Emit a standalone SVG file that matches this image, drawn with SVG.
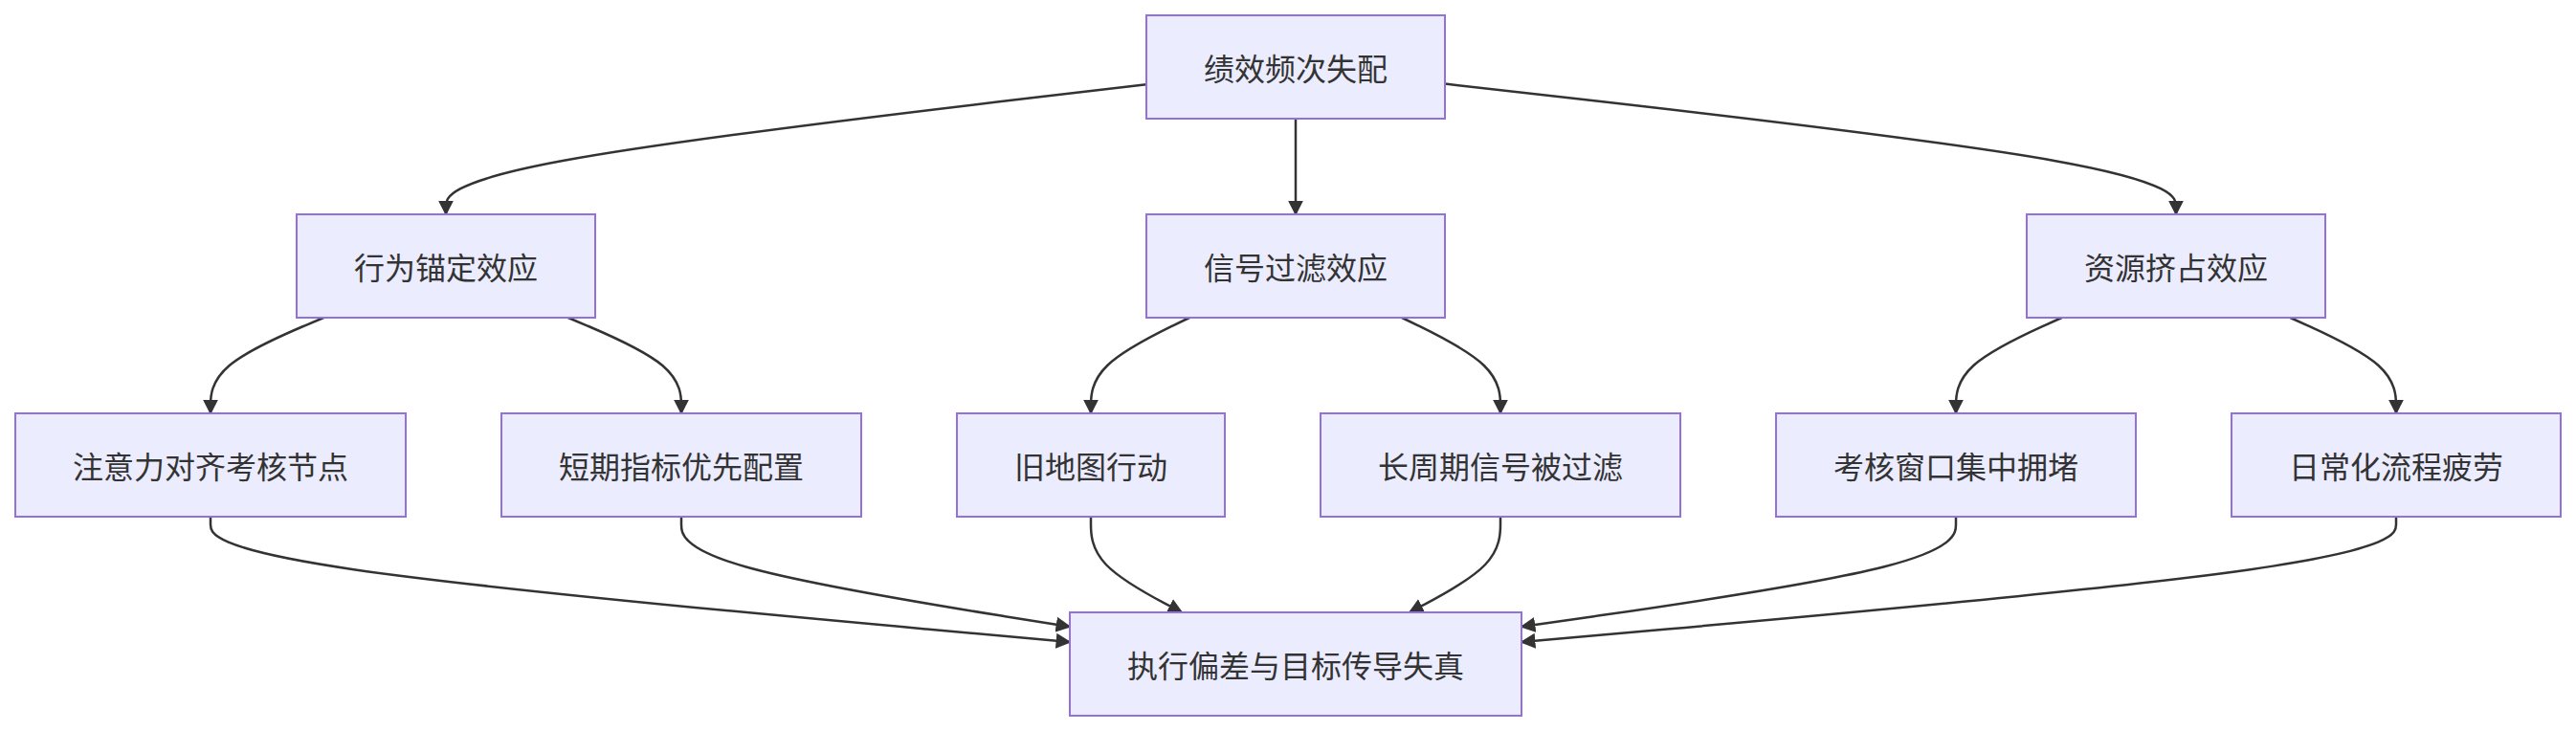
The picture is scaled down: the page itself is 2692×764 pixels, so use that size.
<svg xmlns="http://www.w3.org/2000/svg" width="2692" height="764" viewBox="0 0 2692 764">
<style>
.node rect{fill:#ECECFF;stroke:#9370DB;stroke-width:2}
.node text{font-family:"Noto Sans CJK SC","Noto Sans",sans-serif;font-size:32px;fill:#333;text-anchor:middle;dominant-baseline:central}
.edges path{fill:none;stroke:#333;stroke-width:2.5;marker-end:url(#arrow)}
</style>
<defs>
<marker id="arrow" viewBox="0 0 10 10" refX="9" refY="5" markerUnits="userSpaceOnUse" markerWidth="16" markerHeight="16" orient="auto">
<path d="M0,0 L10,5 L0,10 z" fill="#333"/>
</marker>
</defs>
<rect width="2692" height="764" fill="#fff"/>
<g class="edges">
<path d="M1198,88.3 L1076,102.6 C954,116.9 710,145.4 588,168.1 C466,190.7 466,207.3 466,215.7 L466,224"/>
<path d="M1354,124 L1354,224"/>
<path d="M1510,87.6 L1637.3,102 C1764.7,116.4 2019.3,145.2 2146.7,167.9 C2274,190.7 2274,207.3 2274,215.7 L2274,224"/>
<path d="M338.3,332 L318.6,340.3 C298.9,348.7 259.4,365.3 239.7,382 C220,398.7 220,415.3 220,423.7 L220,432"/>
<path d="M593.7,332 L613.4,340.3 C633.1,348.7 672.6,365.3 692.3,382 C712,398.7 712,415.3 712,423.7 L712,432"/>
<path d="M1243,332 L1225.8,340.3 C1208.7,348.7 1174.3,365.3 1157.2,382 C1140,398.7 1140,415.3 1140,423.7 L1140,432"/>
<path d="M1465,332 L1482.2,340.3 C1499.3,348.7 1533.7,365.3 1550.8,382 C1568,398.7 1568,415.3 1568,423.7 L1568,432"/>
<path d="M2154.6,332 L2136.2,340.3 C2117.7,348.7 2080.9,365.3 2062.4,382 C2044,398.7 2044,415.3 2044,423.7 L2044,432"/>
<path d="M2393.4,332 L2411.8,340.3 C2430.3,348.7 2467.1,365.3 2485.6,382 C2504,398.7 2504,415.3 2504,423.7 L2504,432"/>
<path d="M220,540 L220,548.3 C220,556.7 220,573.3 369.7,595.2 C519.3,617 818.7,644 968.3,657.5 L1118,671"/>
<path d="M712,540 L712,548.3 C712,556.7 712,573.3 779.7,592.5 C847.3,611.7 982.7,633.3 1050.3,644.2 L1118,655"/>
<path d="M1140,540 L1140,548.3 C1140,556.7 1140,573.3 1155.8,590 C1171.7,606.7 1203.3,623.3 1219.2,631.7 L1235,640"/>
<path d="M1568,540 L1568,548.3 C1568,556.7 1568,573.3 1552.2,590 C1536.3,606.7 1504.7,623.3 1488.8,631.7 L1473,640"/>
<path d="M2044,540 L2044,548.3 C2044,556.7 2044,573.3 1968.3,592.5 C1892.7,611.7 1741.3,633.3 1665.7,644.2 L1590,655"/>
<path d="M2504,540 L2504,548.3 C2504,556.7 2504,573.3 2351.7,595.2 C2199.3,617 1894.7,644 1742.3,657.5 L1590,671"/>
</g>
<g id="n_root" class="node"><rect x="1198" y="16" width="312" height="108"/><text x="1354" y="70">绩效频次失配</text></g>
<g id="n_anchor" class="node"><rect x="310" y="224" width="312" height="108"/><text x="466" y="278">行为锚定效应</text></g>
<g id="n_filter" class="node"><rect x="1198" y="224" width="312" height="108"/><text x="1354" y="278">信号过滤效应</text></g>
<g id="n_crowd" class="node"><rect x="2118" y="224" width="312" height="108"/><text x="2274" y="278">资源挤占效应</text></g>
<g id="n_attn" class="node"><rect x="16" y="432" width="408" height="108"/><text x="220" y="486">注意力对齐考核节点</text></g>
<g id="n_short" class="node"><rect x="524" y="432" width="376" height="108"/><text x="712" y="486">短期指标优先配置</text></g>
<g id="n_oldmap" class="node"><rect x="1000" y="432" width="280" height="108"/><text x="1140" y="486">旧地图行动</text></g>
<g id="n_long" class="node"><rect x="1380" y="432" width="376" height="108"/><text x="1568" y="486">长周期信号被过滤</text></g>
<g id="n_window" class="node"><rect x="1856" y="432" width="376" height="108"/><text x="2044" y="486">考核窗口集中拥堵</text></g>
<g id="n_fatigue" class="node"><rect x="2332" y="432" width="344" height="108"/><text x="2504" y="486">日常化流程疲劳</text></g>
<g id="n_result" class="node"><rect x="1118" y="640" width="472" height="108"/><text x="1354" y="694">执行偏差与目标传导失真</text></g>
</svg>
